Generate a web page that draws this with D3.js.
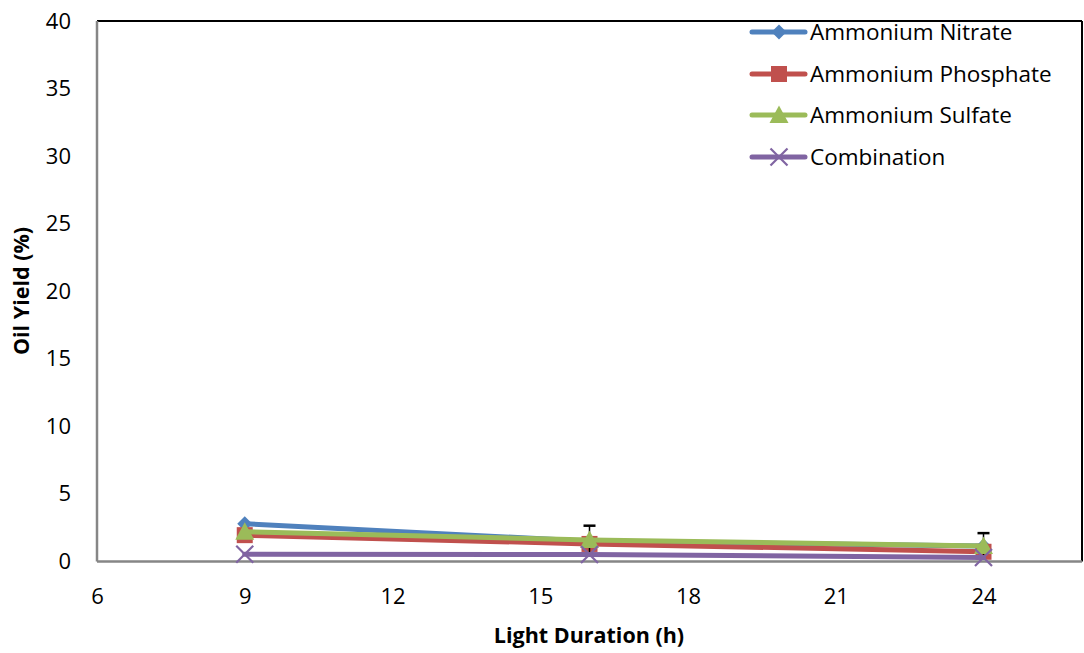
<!DOCTYPE html>
<html>
<head>
<meta charset="utf-8">
<script src="https://cdn.jsdelivr.net/npm/d3@7"></script>
<style>
  html, body { margin: 0; padding: 0; background: #fff; }
  svg { display: block; }
  text { font-family: "Open Sans", "Noto Sans", sans-serif; fill: #000; }
</style>
</head>
<body>
<svg id="chart" width="1084" height="653"></svg>
<script>
// Light duration (h) for each measurement
const hours = [9, 16, 24];

// Oil yield (%) per nitrogen source
const nitrate    = [2.8, 1.5, 1.15];
const phosphate  = [1.95, 1.3, 0.72];
const sulfate    = [2.2, 1.6, 1.15];
const combination = [0.53, 0.52, 0.3];

// Standard deviation bars (shown on the sulfate series)
const sulfateErr = [0, 1.05, 0.95];

const seriesNames = ["Ammonium Nitrate", "Ammonium Phosphate", "Ammonium Sulfate", "Combination"];
const seriesColors = ["#4F81BD", "#C0504D", "#9BBB59", "#8064A2"];
const seriesMarkers = ["diamond", "square", "triangle", "cross"];
const seriesValues = [nitrate, phosphate, sulfate, combination];

const xTicks = [6, 9, 12, 15, 18, 21, 24];
const yTicks = [0, 5, 10, 15, 20, 25, 30, 35, 40];

const svg = d3.select("#chart");
const plot = { left: 97, right: 1082, top: 21, bottom: 561.5 };

const x = d3.scaleLinear().domain([6, 26]).range([plot.left, plot.right]);
const y = d3.scaleLinear().domain([0, 40]).range([plot.bottom, plot.top]);

// Plot frame: dark top/right edges, grey axis lines
svg.append("line").attr("x1", plot.left).attr("x2", plot.right)
  .attr("y1", plot.top).attr("y2", plot.top)
  .attr("stroke", "#000").attr("stroke-width", 2);
svg.append("line").attr("x1", plot.right).attr("x2", plot.right)
  .attr("y1", plot.top).attr("y2", plot.bottom)
  .attr("stroke", "#000").attr("stroke-width", 2);

// Axes without tick marks
const xAxis = d3.axisBottom(x).tickValues(xTicks).tickSize(0).tickPadding(27);
const yAxis = d3.axisLeft(y).tickValues(yTicks).tickSize(0).tickPadding(26);

const gx = svg.append("g").attr("transform", `translate(0,${plot.bottom})`).call(xAxis);
const gy = svg.append("g").attr("transform", `translate(${plot.left},0)`).call(yAxis);
[gx, gy].forEach(g => {
  g.select(".domain").attr("stroke", "#868686").attr("stroke-width", 2.5);
  g.selectAll("text").attr("font-size", 22).attr("font-family", "Open Sans, sans-serif").attr("fill", "#000");
});
gx.select(".domain").attr("d", `M${plot.left},0H${plot.right}`);
gy.select(".domain").attr("d", `M0,${plot.top}V${plot.bottom}`);

// Axis titles
svg.append("text")
  .attr("x", 589).attr("y", 643)
  .attr("text-anchor", "middle").attr("font-size", 21.5).attr("font-weight", "bold")
  .text("Light Duration (h)");
svg.append("text")
  .attr("transform", `translate(29,291) rotate(-90)`)
  .attr("text-anchor", "middle").attr("font-size", 21.5).attr("font-weight", "bold")
  .text("Oil Yield (%)");

// Marker shapes
function drawMarker(g, type, cx, cy, color, scale) {
  const s = scale || 1;
  if (type === "diamond") {
    const r = 7.5 * s;
    g.append("path").attr("d", `M${cx},${cy - r}L${cx + r},${cy}L${cx},${cy + r}L${cx - r},${cy}Z`)
      .attr("fill", color);
  } else if (type === "square") {
    const r = 8 * s;
    g.append("rect").attr("x", cx - r).attr("y", cy - r).attr("width", 2 * r).attr("height", 2 * r)
      .attr("fill", color);
  } else if (type === "triangle") {
    const r = 9.5 * s;
    g.append("path").attr("d", `M${cx},${cy - r}L${cx + r},${cy + r * 0.85}L${cx - r},${cy + r * 0.85}Z`)
      .attr("fill", color);
  } else if (type === "cross") {
    const r = 8.5 * s;
    g.append("path").attr("d", `M${cx - r},${cy - r}L${cx + r},${cy + r}M${cx - r},${cy + r}L${cx + r},${cy - r}`)
      .attr("stroke", color).attr("stroke-width", 2.2).attr("fill", "none");
  }
}

const line = d3.line().x(d => x(d.h)).y(d => y(d.v));

seriesValues.forEach((vals, i) => {
  const data = hours.map((h, j) => ({ h, v: vals[j] }));
  const g = svg.append("g");
  g.append("path").datum(data).attr("d", line)
    .attr("fill", "none").attr("stroke", seriesColors[i]).attr("stroke-width", 5)
    .attr("stroke-linejoin", "round").attr("stroke-linecap", "round");

  // Error bars on the sulfate series
  if (vals === sulfate) {
    data.forEach((d, j) => {
      const e = sulfateErr[j];
      if (e <= 0) return;
      const cx = x(d.h);
      g.append("line").attr("x1", cx).attr("x2", cx).attr("y1", y(d.v - e)).attr("y2", y(d.v + e))
        .attr("stroke", "#000").attr("stroke-width", 1.5);
      g.append("line").attr("x1", cx - 6).attr("x2", cx + 6).attr("y1", y(d.v + e)).attr("y2", y(d.v + e))
        .attr("stroke", "#000").attr("stroke-width", 2.5);
    });
  }

  data.forEach(d => drawMarker(g, seriesMarkers[i], x(d.h), y(d.v), seriesColors[i]));
});

// Legend
const legendRows = [32, 74, 115, 157];
seriesNames.forEach((name, i) => {
  const g = svg.append("g");
  const cy = legendRows[i];
  g.append("line").attr("x1", 752).attr("x2", 805).attr("y1", cy).attr("y2", cy)
    .attr("stroke", seriesColors[i]).attr("stroke-width", 5).attr("stroke-linecap", "round");
  drawMarker(g, seriesMarkers[i], 779, cy, seriesColors[i]);
  g.append("text").attr("x", 810).attr("y", cy).attr("dy", "0.35em")
    .attr("font-size", 22.5).text(name);
});
</script>
</body>
</html>
